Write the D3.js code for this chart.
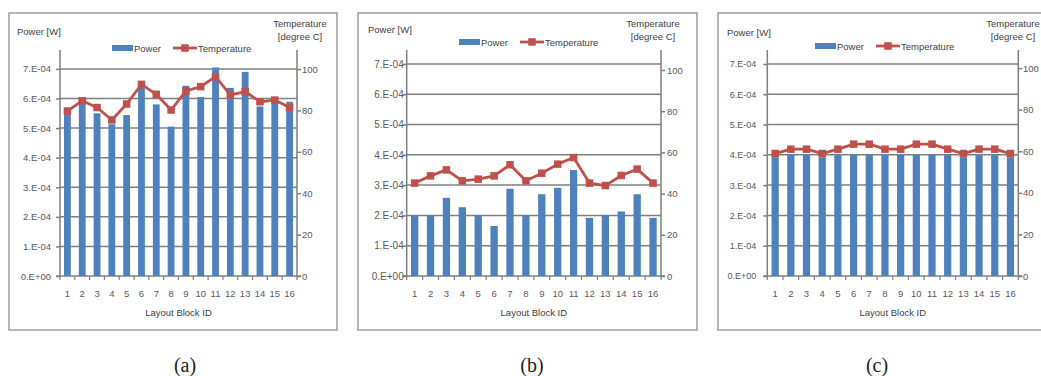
<!DOCTYPE html>
<html>
<head>
<meta charset="utf-8">
<script src="https://cdn.jsdelivr.net/npm/d3@7/dist/d3.min.js"></script>
<style>
  body { margin: 0; background: #fff; }
  svg { display: block; }
  text { font-family: "Liberation Sans", Arial, sans-serif; }
</style>
</head>
<body>
<svg id="chart" width="1041" height="376"></svg>
<script>
// ---- data ----
const blockIds = [1, 2, 3, 4, 5, 6, 7, 8, 9, 10, 11, 12, 13, 14, 15, 16];

const powerTicks = [0, 1e-4, 2e-4, 3e-4, 4e-4, 5e-4, 6e-4, 7e-4];
const powerTickLabels = ["0.E+00", "1.E-04", "2.E-04", "3.E-04", "4.E-04", "5.E-04", "6.E-04", "7.E-04"];
const tempTicks = [0, 20, 40, 60, 80, 100];

// (a)
const powerA = [5.48e-4, 5.95e-4, 5.5e-4, 5.13e-4, 5.44e-4, 6.46e-4, 5.8e-4, 5.05e-4,
                6.43e-4, 6.05e-4, 7.05e-4, 6.36e-4, 6.9e-4, 5.73e-4, 5.97e-4, 5.89e-4];
const tempA = [79.7, 84.7, 81.4, 75.4, 83.1, 92.6, 87.8, 80.2,
               89.4, 91.5, 96.3, 87.5, 89.1, 84.2, 85.0, 81.4];

// (b)
const powerB = [2.0e-4, 2.0e-4, 2.58e-4, 2.27e-4, 2.0e-4, 1.65e-4, 2.88e-4, 2.0e-4,
                2.7e-4, 2.91e-4, 3.5e-4, 1.92e-4, 2.0e-4, 2.13e-4, 2.7e-4, 1.92e-4];
const tempB = [45.1, 48.6, 51.5, 46.2, 47.0, 48.6, 54.0, 46.2,
               49.9, 54.3, 57.5, 45.1, 43.9, 48.8, 51.9, 45.1];

// (c)
const powerC = [3.92e-4, 4.0e-4, 4.0e-4, 3.92e-4, 4.0e-4, 4.0e-4, 4.0e-4, 4.0e-4,
                4.0e-4, 4.0e-4, 4.0e-4, 4.0e-4, 3.92e-4, 4.0e-4, 4.0e-4, 3.92e-4];
const tempC = [58.9, 61.0, 61.0, 58.9, 61.0, 63.4, 63.4, 61.0,
               61.0, 63.4, 63.4, 61.0, 58.9, 61.0, 61.0, 58.9];

const panelCaptions = ["(a)", "(b)", "(c)"];
const seriesNames = ["Power", "Temperature"];

// ---- layout ----
const BLUE = "#4F81BD";
const RED = "#C0504D";
const GRID = "#7f7f7f";

const panels = [
  { power: powerA, temp: tempA, caption: panelCaptions[0],
    box: [9, 13, 337, 330], plot: [60, 297, 50, 276], pMax: 7.64e-4, tMax: 109.2,
    leftLabelGap: 9, leftFont: 9.5, rightLabelX: 302,
    legendX: 112, legendY: 48, powerTitle: [17, 35], tempTitleCx: 300, captionX: 185 },
  { power: powerB, temp: tempB, caption: panelCaptions[1],
    box: [358, 13, 697, 330], plot: [406.7, 661, 50, 276], pMax: 7.46e-4, tMax: 109.7,
    leftLabelGap: 3, leftFont: 10, rightLabelX: 667,
    legendX: 459, legendY: 42, powerTitle: [368, 33], tempTitleCx: 653, captionX: 532 },
  { power: powerC, temp: tempC, caption: panelCaptions[2],
    box: [718, 13, 1062, 330], plot: [767.3, 1018.3, 50, 276], pMax: 7.46e-4, tMax: 108.7,
    leftLabelGap: 11, leftFont: 9, rightLabelX: 1023,
    legendX: 815, legendY: 46, powerTitle: [727, 36], tempTitleCx: 1013, captionX: 877 }
];

const svg = d3.select("#chart");

panels.forEach(p => {
  const g = svg.append("g");
  const [bx0, by0, bx1, by1] = p.box;
  const [L, R, T, B] = p.plot;

  // chart frame
  g.append("rect")
    .attr("x", bx0).attr("y", by0)
    .attr("width", bx1 - bx0).attr("height", by1 - by0)
    .attr("fill", "#fff").attr("stroke", "#a3a3a3").attr("stroke-width", 1.6);

  const x = d3.scaleBand().domain(blockIds).range([L, R]).paddingInner(0.54).paddingOuter(0.27);
  const yP = d3.scaleLinear().domain([0, p.pMax]).range([B, T]);
  const yT = d3.scaleLinear().domain([0, p.tMax]).range([B, T]);
  const cx = d => x(d) + x.bandwidth() / 2;

  // horizontal gridlines
  g.append("g").selectAll("line").data(powerTicks.slice(1)).join("line")
    .attr("x1", L).attr("x2", R)
    .attr("y1", d => yP(d)).attr("y2", d => yP(d))
    .attr("stroke", GRID).attr("stroke-width", 1.5);

  // left axis
  const leftAxis = d3.axisLeft(yP).tickValues(powerTicks)
    .tickFormat((d, i) => powerTickLabels[i]).tickSize(4);
  const la = g.append("g").attr("transform", `translate(${L},0)`).call(leftAxis);
  la.select(".domain").attr("stroke", GRID).attr("stroke-width", 1.5).attr("d", `M-4,${B}H0V${T}`);
  la.selectAll(".tick line").attr("stroke", GRID).attr("stroke-width", 1.5);
  la.selectAll(".tick text").attr("fill", "#595959").style("font-size", p.leftFont + "px")
    .attr("x", -p.leftLabelGap);

  // right axis
  const rightAxis = d3.axisRight(yT).tickValues(tempTicks).tickSize(4).tickPadding(p.rightLabelX - R - 4);
  const ra = g.append("g").attr("transform", `translate(${R},0)`).call(rightAxis);
  ra.select(".domain").attr("stroke", GRID).attr("stroke-width", 1.5).attr("d", `M4,${B}H0V${T}`);
  ra.selectAll(".tick line").attr("stroke", GRID).attr("stroke-width", 1.5);
  ra.selectAll(".tick text").attr("fill", "#595959").style("font-size", "9.5px");

  // bottom axis: ticks between categories, labels at centres
  const step = x.step();
  const bottom = g.append("g");
  bottom.append("line").attr("x1", L).attr("x2", R).attr("y1", B).attr("y2", B)
    .attr("stroke", GRID).attr("stroke-width", 1.5);
  bottom.selectAll(".sep").data(d3.range(blockIds.length + 1)).join("line")
    .attr("class", "sep")
    .attr("x1", i => L + i * step).attr("x2", i => L + i * step)
    .attr("y1", B).attr("y2", B + 4)
    .attr("stroke", GRID).attr("stroke-width", 1.2);
  bottom.selectAll("text").data(blockIds).join("text")
    .attr("x", d => cx(d)).attr("y", B + 21)
    .attr("text-anchor", "middle").attr("fill", "#595959")
    .style("font-size", "9.5px").text(d => d);

  // power bars
  g.append("g").selectAll("rect").data(blockIds).join("rect")
    .attr("x", d => x(d)).attr("width", x.bandwidth())
    .attr("y", (d, i) => yP(p.power[i]))
    .attr("height", (d, i) => B - yP(p.power[i]))
    .attr("fill", BLUE);

  // temperature line with square markers
  const line = d3.line().x((d, i) => cx(blockIds[i])).y(d => yT(d));
  g.append("path").datum(p.temp).attr("d", line)
    .attr("fill", "none").attr("stroke", RED).attr("stroke-width", 2.8)
    .attr("stroke-linejoin", "round");
  g.append("g").selectAll("rect").data(p.temp).join("rect")
    .attr("x", (d, i) => cx(blockIds[i]) - 3.75).attr("y", d => yT(d) - 3.75)
    .attr("width", 7.5).attr("height", 7.5).attr("fill", RED);

  // axis titles
  g.append("text").attr("x", p.powerTitle[0]).attr("y", p.powerTitle[1])
    .attr("fill", "#404040").style("font-size", "9.5px").text("Power [W]");
  g.append("text").attr("x", p.tempTitleCx).attr("y", 27).attr("text-anchor", "middle")
    .attr("fill", "#404040").style("font-size", "9.5px").text("Temperature");
  g.append("text").attr("x", p.tempTitleCx).attr("y", 40).attr("text-anchor", "middle")
    .attr("fill", "#404040").style("font-size", "9.5px").text("[degree C]");
  g.append("text").attr("x", (L + R) / 2).attr("y", 316).attr("text-anchor", "middle")
    .attr("fill", "#404040").style("font-size", "9.5px").text("Layout Block ID");

  // legend
  const lg = g.append("g").attr("transform", `translate(${p.legendX},${p.legendY})`);
  lg.append("rect").attr("x", 0).attr("y", -3).attr("width", 21).attr("height", 6).attr("fill", BLUE);
  lg.append("text").attr("x", 22).attr("y", 3.5).attr("fill", "#404040")
    .style("font-size", "9.5px").text(seriesNames[0]);
  lg.append("line").attr("x1", 61).attr("x2", 85).attr("y1", 0).attr("y2", 0)
    .attr("stroke", RED).attr("stroke-width", 2.8);
  lg.append("rect").attr("x", 69.25).attr("y", -3.75).attr("width", 7.5).attr("height", 7.5).attr("fill", RED);
  lg.append("text").attr("x", 86).attr("y", 3.5).attr("fill", "#404040")
    .style("font-size", "9.5px").text(seriesNames[1]);

  // panel caption
  svg.append("text").attr("x", p.captionX).attr("y", 372).attr("text-anchor", "middle")
    .style("font-family", "'Liberation Serif', 'DejaVu Serif', serif").style("font-size", "20px")
    .attr("fill", "#222").text(p.caption);
});
</script>
</body>
</html>
